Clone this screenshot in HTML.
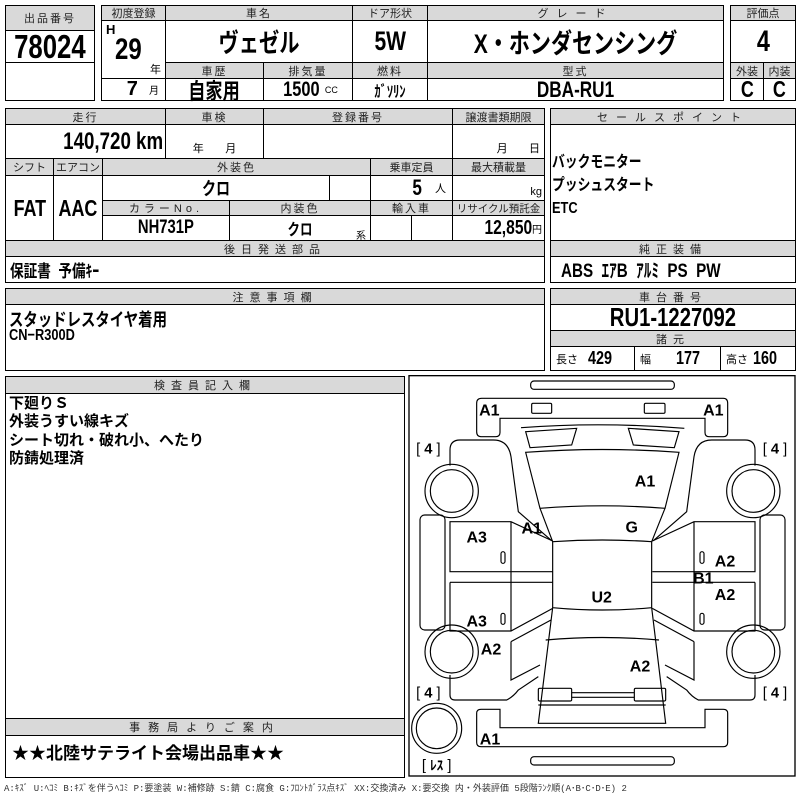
<!DOCTYPE html>
<html><head><meta charset="utf-8"><style>
body{margin:0;background:#fff;}
#p{position:relative;width:800px;height:800px;overflow:hidden;font-family:"Liberation Sans","Noto Sans CJK JP",sans-serif;color:#000;}
.c{position:absolute;box-sizing:border-box;border:1.5px solid #000;display:flex;align-items:center;justify-content:center;white-space:nowrap;}
.g{background:#d9d9d9;font-size:11px;letter-spacing:2px;color:#222;}
.v{font-family:"Liberation Sans Narrow","Liberation Sans","Noto Sans CJK JP",sans-serif;font-weight:bold;}
.t{position:absolute;white-space:nowrap;}
.s{display:inline-block;transform:scaleX(.78);}
.sr{display:inline-block;transform:scaleX(.78);transform-origin:right center;}
.sl{display:inline-block;transform:scaleX(.8);transform-origin:left center;}
</style></head><body><div id="p">
<div class="c g" style="left:5px;top:5px;width:90px;height:26px">出品番号</div>
<div class="c v" style="left:5px;top:30px;width:90px;height:33px;font-size:33px"><span class="s">78024</span></div>
<div class="c" style="left:5px;top:62px;width:90px;height:39px"></div>

<div class="c g" style="left:101px;top:5px;width:65px;height:16px;letter-spacing:0">初度登録</div>
<div class="c g" style="left:165px;top:5px;width:188px;height:16px">車名</div>
<div class="c g" style="left:352px;top:5px;width:76px;height:16px;letter-spacing:0">ドア形状</div>
<div class="c g" style="left:427px;top:5px;width:297px;height:16px;letter-spacing:8px">グレード</div>
<div class="c" style="left:101px;top:20px;width:65px;height:59px"></div>
<div class="t v" style="left:106px;top:22px;font-size:13px">H</div>
<div class="t v" style="left:115px;top:33px;font-size:30px"><span class="sl">29</span></div>
<div class="t" style="left:150px;top:61px;font-size:11px">年</div>
<div class="c v" style="left:165px;top:20px;width:188px;height:43px;font-size:26px"><span class="s">ヴェゼル</span></div>
<div class="c v" style="left:352px;top:20px;width:76px;height:43px;font-size:27px"><span class="s">5W</span></div>
<div class="c v" style="left:427px;top:20px;width:297px;height:43px;font-size:27px"><span class="s">X・ホンダセンシング</span></div>
<div class="c g" style="left:165px;top:62px;width:99px;height:17px">車歴</div>
<div class="c g" style="left:263px;top:62px;width:90px;height:17px">排気量</div>
<div class="c g" style="left:352px;top:62px;width:76px;height:17px">燃料</div>
<div class="c g" style="left:427px;top:62px;width:297px;height:17px">型式</div>
<div class="c v" style="left:101px;top:78px;width:65px;height:23px;font-size:20px;justify-content:flex-end;padding-right:6px">7&nbsp;&nbsp;<span style="font-size:10px;font-weight:normal">月</span></div>
<div class="c v" style="left:165px;top:78px;width:99px;height:23px;font-size:22px"><span class="s">自家用</span></div>
<div class="c v" style="left:263px;top:78px;width:90px;height:23px;font-size:21px"><span class="s">1500</span><span style="font-size:9px;font-weight:normal">CC</span></div>
<div class="c v" style="left:352px;top:78px;width:76px;height:23px;font-size:16px"><span class="s">ｶﾞｿﾘﾝ</span></div>
<div class="c v" style="left:427px;top:78px;width:297px;height:23px;font-size:22px"><span class="s">DBA-RU1</span></div>

<div class="c g" style="left:730px;top:5px;width:66px;height:16px;letter-spacing:0">評価点</div>
<div class="c v" style="left:730px;top:20px;width:66px;height:43px;font-size:30px"><span class="s">4</span></div>
<div class="c g" style="left:730px;top:62px;width:34px;height:17px;letter-spacing:0">外装</div>
<div class="c g" style="left:763px;top:62px;width:33px;height:17px;letter-spacing:0">内装</div>
<div class="c v" style="left:730px;top:78px;width:34px;height:23px;font-size:23px"><span class="s">C</span></div>
<div class="c v" style="left:763px;top:78px;width:33px;height:23px;font-size:23px"><span class="s">C</span></div>

<div class="c g" style="left:5px;top:108px;width:161px;height:17px">走行</div>
<div class="c g" style="left:165px;top:108px;width:99px;height:17px">車検</div>
<div class="c g" style="left:263px;top:108px;width:190px;height:17px">登録番号</div>
<div class="c g" style="left:452px;top:108px;width:93px;height:17px;letter-spacing:0">譲渡書類期限</div>
<div class="c v" style="left:5px;top:124px;width:161px;height:35px;font-size:24px;justify-content:flex-end;padding-right:2px"><span class="sr">140,720 km</span></div>
<div class="c" style="left:165px;top:124px;width:99px;height:35px;font-size:11px;align-items:flex-end;padding-bottom:2px">年&nbsp;&nbsp;&nbsp;&nbsp;&nbsp;&nbsp;&nbsp;月</div>
<div class="c" style="left:263px;top:124px;width:190px;height:35px"></div>
<div class="c" style="left:452px;top:124px;width:93px;height:35px;font-size:11px;align-items:flex-end;padding-bottom:2px;justify-content:flex-end;padding-right:4px">月&nbsp;&nbsp;&nbsp;&nbsp;&nbsp;&nbsp;&nbsp;日</div>
<div class="c g" style="left:5px;top:158px;width:49px;height:18px;letter-spacing:0">シフト</div>
<div class="c g" style="left:53px;top:158px;width:50px;height:18px;letter-spacing:0">エアコン</div>
<div class="c g" style="left:102px;top:158px;width:269px;height:18px">外装色</div>
<div class="c g" style="left:370px;top:158px;width:83px;height:18px;letter-spacing:0">乗車定員</div>
<div class="c g" style="left:452px;top:158px;width:93px;height:18px;letter-spacing:0">最大積載量</div>
<div class="c v" style="left:5px;top:175px;width:49px;height:66px;font-size:23px"><span class="s">FAT</span></div>
<div class="c v" style="left:53px;top:175px;width:50px;height:66px;font-size:23px"><span class="s">AAC</span></div>
<div class="c v" style="left:102px;top:175px;width:228px;height:26px;font-size:18px"><span class="s">クロ</span></div>
<div class="c" style="left:329px;top:175px;width:42px;height:26px"></div>
<div class="c v" style="left:370px;top:175px;width:83px;height:26px;font-size:22px;justify-content:flex-end;padding-right:6px"><span class="s">5</span>&nbsp;&nbsp;<span style="font-size:11px;font-weight:normal">人</span></div>
<div class="c" style="left:452px;top:175px;width:93px;height:26px;font-size:11px;justify-content:flex-end;align-items:flex-end;padding:0 2px 2px 0">kg</div>
<div class="c g" style="left:102px;top:200px;width:128px;height:16px;letter-spacing:4px">カラーNo.</div>
<div class="c g" style="left:229px;top:200px;width:142px;height:16px">内装色</div>
<div class="c g" style="left:370px;top:200px;width:83px;height:16px">輸入車</div>
<div class="c g" style="left:452px;top:200px;width:93px;height:16px;letter-spacing:0;font-size:10.5px">リサイクル預託金</div>
<div class="c v" style="left:102px;top:215px;width:128px;height:26px;font-size:19px"><span class="s">NH731P</span></div>
<div class="c v" style="left:229px;top:215px;width:142px;height:26px;font-size:16px"><span class="s">クロ</span></div>
<div class="t" style="left:356px;top:227px;font-size:10px">系</div>
<div class="c" style="left:370px;top:215px;width:42px;height:26px"></div>
<div class="c" style="left:411px;top:215px;width:42px;height:26px"></div>
<div class="c v" style="left:452px;top:215px;width:93px;height:26px;font-size:20px;justify-content:flex-end;padding-right:2px"><span class="sr">12,850</span><span style="font-size:10px;font-weight:normal">円</span></div>
<div class="c g" style="left:5px;top:240px;width:540px;height:17px;letter-spacing:6px">後日発送部品</div>
<div class="c v" style="left:5px;top:256px;width:540px;height:27px;font-size:17px;justify-content:flex-start;padding-left:4px"><span class="sl">保証書&nbsp;&nbsp;予備ｷｰ</span></div>

<div class="c g" style="left:550px;top:108px;width:246px;height:17px;letter-spacing:8px">セールスポイント</div>
<div class="c" style="left:550px;top:124px;width:246px;height:117px"></div>
<div class="t v" style="left:552px;top:151px;font-size:16px;line-height:23px"><span class="sl">バックモニター<br>プッシュスタート<br>ETC</span></div>
<div class="c g" style="left:550px;top:240px;width:246px;height:17px;letter-spacing:6px">純正装備</div>
<div class="c v" style="left:550px;top:256px;width:246px;height:27px;font-size:19px;justify-content:flex-start;padding-left:10px"><span class="sl">ABS&nbsp;&nbsp;ｴｱB&nbsp;&nbsp;ｱﾙﾐ&nbsp;&nbsp;PS&nbsp;&nbsp;PW</span></div>

<div class="c g" style="left:5px;top:288px;width:540px;height:17px;letter-spacing:6px">注意事項欄</div>
<div class="c" style="left:5px;top:304px;width:540px;height:67px"></div>
<div class="t v" style="left:9px;top:306px;font-size:18px"><span class="sl">スタッドレスタイヤ着用</span></div>
<div class="t v" style="left:9px;top:327px;font-size:16px"><span class="sl">CN−R300D</span></div>
<div class="c g" style="left:550px;top:288px;width:246px;height:17px;letter-spacing:6px">車台番号</div>
<div class="c v" style="left:550px;top:304px;width:246px;height:27px;font-size:26px"><span class="s">RU1-1227092</span></div>
<div class="c g" style="left:550px;top:330px;width:246px;height:17px;letter-spacing:6px">諸元</div>
<div class="c v" style="left:550px;top:346px;width:85px;height:25px;font-size:18px;justify-content:flex-start;padding-left:5px"><span style="font-size:11px;font-weight:normal">長さ</span>&nbsp;&nbsp;<span class="sl">429</span></div>
<div class="c v" style="left:634px;top:346px;width:87px;height:25px;font-size:18px;justify-content:flex-start;padding-left:5px"><span style="font-size:11px;font-weight:normal">幅</span>&nbsp;&nbsp;&nbsp;&nbsp;&nbsp;<span class="sl">177</span></div>
<div class="c v" style="left:720px;top:346px;width:76px;height:25px;font-size:18px;justify-content:flex-start;padding-left:5px"><span style="font-size:11px;font-weight:normal">高さ</span>&nbsp;<span class="sl">160</span></div>

<div class="c g" style="left:5px;top:376px;width:400px;height:18px;letter-spacing:6px">検査員記入欄</div>
<div class="c" style="left:5px;top:393px;width:400px;height:326px"></div>
<div class="t" style="left:9px;top:395px;font-size:15px;font-weight:bold;line-height:18.3px">下廻りＳ<br>外装うすい線キズ<br>シート切れ・破れ小、へたり<br>防錆処理済</div>
<div class="c g" style="left:5px;top:718px;width:400px;height:18px;letter-spacing:8px">事務局よりご案内</div>
<div class="c" style="left:5px;top:735px;width:400px;height:43px;font-size:17px;font-weight:bold;justify-content:flex-start;align-items:flex-start;padding:3px 0 0 6px">★★北陸サテライト会場出品車★★</div>

<svg style="position:absolute;left:405px;top:375px" width="395" height="425" viewBox="0 0 1185 1275">
<defs>
<g id="side" fill="none" stroke="#000" stroke-width="3.5">
<path d="M440,497 L340,410 L318,245 Q310,195 265,195 L165,195 Q135,195 135,225 L135,272"/>
<circle cx="140" cy="348" r="80"/><circle cx="140" cy="348" r="64"/>
<rect x="45" y="420" width="75" height="345" rx="14"/>
<path d="M443,590 L135,590 L135,440 L318,440 L443,498 M318,440 L318,768 M135,622 L443,622 M135,622 L135,768 L318,768 L443,700"/>
<rect x="288" y="530" width="12" height="35" rx="6"/>
<rect x="288" y="715" width="12" height="33" rx="6"/>
<circle cx="140" cy="830" r="80"/><circle cx="140" cy="830" r="64"/>
<path d="M318,800 L438,735 M318,800 L318,915 L405,870"/>
<path d="M135,900 L135,960 Q135,975 150,975 L305,975 Q325,965 340,945 L400,905"/>
</g>
</defs>
<rect x="12" y="2" width="1158" height="1201" fill="none" stroke="#000" stroke-width="4"/>
<g fill="none" stroke="#000" stroke-width="3.5">
<rect x="377" y="18" width="431" height="25" rx="10"/>
<path d="M215,85 Q215,70 230,70 L955,70 Q968,70 968,85 L968,172 Q968,185 955,185 L912,185 Q900,185 900,172 L900,130 L285,130 L285,172 Q285,185 272,185 L228,185 Q215,185 215,170 Z"/>
<rect x="380" y="85" width="60" height="30" rx="4"/>
<rect x="718" y="85" width="62" height="30" rx="4"/>
<path d="M348,158 Q592,140 838,160"/>
<path d="M362,170 L515,160 L500,210 L375,218 Z"/>
<path d="M670,160 L822,170 L808,218 L685,210 Z"/>
<path d="M362,232 Q592,215 822,232 L780,400 Q592,385 405,400 Z"/>
<path d="M405,400 L443,500 Q592,490 740,500 L780,400"/>
<path d="M443,500 L443,698 Q592,712 740,698 L740,500"/>
<path d="M443,698 L400,1045 L782,1045 L740,698"/>
<path d="M422,795 Q592,780 762,795"/>
<rect x="400" y="940" width="100" height="38" rx="4"/>
<rect x="688" y="940" width="94" height="38" rx="4"/>
<path d="M500,953 L688,953 M500,967 L688,967 M400,990 L782,990"/>
<path d="M215,1015 Q215,1003 228,1003 L285,1003 L285,1058 L900,1058 L900,1003 L955,1003 Q968,1003 968,1015 L968,1102 Q968,1115 955,1115 L228,1115 Q215,1115 215,1102 Z"/>
<rect x="377" y="1145" width="431" height="25" rx="10"/>
<circle cx="95" cy="1060" r="75"/><circle cx="95" cy="1060" r="61"/>
</g>
<use href="#side"/>
<use href="#side" transform="translate(1185,0) scale(-1,1)"/>
<g font-family="Liberation Sans, sans-serif" font-weight="bold" font-size="48" text-anchor="middle">
<text x="253" y="122">A1</text><text x="925" y="122">A1</text>
<text x="720" y="335">A1</text><text x="380" y="475">A1</text>
<text x="680" y="472">G</text><text x="215" y="502">A3</text>
<text x="960" y="575">A2</text><text x="895" y="625">B1</text>
<text x="960" y="675">A2</text><text x="590" y="682">U2</text>
<text x="215" y="755">A3</text><text x="258" y="839">A2</text>
<text x="705" y="889">A2</text><text x="255" y="1109">A1</text>
</g>
<g font-family="Liberation Sans, Noto Sans CJK JP, sans-serif" font-size="44" text-anchor="middle">
<text x="70" y="235">[ <tspan font-weight="bold">4</tspan> ]</text>
<text x="1110" y="235">[ <tspan font-weight="bold">4</tspan> ]</text>
<text x="70" y="967">[ <tspan font-weight="bold">4</tspan> ]</text>
<text x="1110" y="967">[ <tspan font-weight="bold">4</tspan> ]</text>
<text x="95" y="1185">[ <tspan font-weight="bold" font-size="40">ﾚｽ</tspan> ]</text>
</g>
</svg>
<div class="t" style="left:4px;top:781px;font-size:9px;color:#333;font-family:'Liberation Mono','Noto Sans CJK JP',monospace">A:ｷｽﾞ U:ﾍｺﾐ B:ｷｽﾞを伴うﾍｺﾐ P:要塗装 W:補修跡 S:錆 C:腐食 G:ﾌﾛﾝﾄｶﾞﾗｽ点ｷｽﾞ XX:交換済み X:要交換 内・外装評価 5段階ﾗﾝｸ順(A･B･C･D･E) 2</div>
</div></body></html>
